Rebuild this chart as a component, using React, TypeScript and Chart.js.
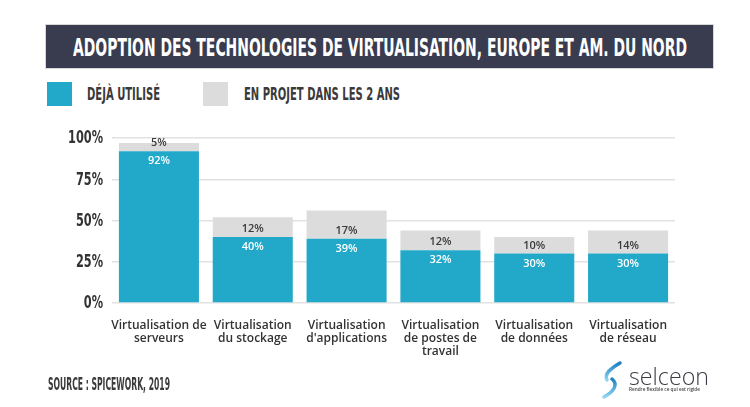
import React, { useEffect, useLayoutEffect, useRef } from "react";
import { Chart, registerables } from "chart.js";
Chart.register(...registerables);

const title = "ADOPTION DES TECHNOLOGIES DE VIRTUALISATION, EUROPE ET AM. DU NORD";
const seriesNames = ["DÉJÀ UTILISÉ", "EN PROJET DANS LES 2 ANS"];
const categories = [
  ["Virtualisation de", "serveurs"],
  ["Virtualisation", "du stockage"],
  ["Virtualisation", "d'applications"],
  ["Virtualisation", "de postes de", "travail"],
  ["Virtualisation", "de données"],
  ["Virtualisation", "de réseau"],
];
const usedValues = [92, 40, 39, 32, 30, 30];
const plannedValues = [5, 12, 17, 12, 10, 14];
const yTicks = [0, 25, 50, 75, 100];
const sourceText = "SOURCE : SPICEWORK, 2019";
const brandName = "selceon";
const brandTagline = "Rendre flexible ce qui est rigide";

const BLUE = "#22a8c9";
const GREY = "#dcdcdc";
const COND = "'Liberation Sans Narrow','DejaVu Sans Condensed','Arial Narrow',sans-serif";

function FitText(props: { text: string; width: number; style: React.CSSProperties }) {
  const ref = useRef<HTMLSpanElement>(null);
  useLayoutEffect(() => {
    const el = ref.current;
    if (!el) return;
    el.style.transform = "none";
    const w = el.getBoundingClientRect().width;
    if (w > 0) el.style.transform = `scaleX(${props.width / w})`;
  }, [props.text, props.width]);
  return (
    <span
      ref={ref}
      style={{
        ...props.style,
        position: "absolute",
        whiteSpace: "nowrap",
        transformOrigin: "left center",
        lineHeight: 1,
      }}
    >
      {props.text}
    </span>
  );
}

const labelPlugin = {
  id: "barLabels",
  afterDatasetsDraw(chart: any) {
    const ctx = chart.ctx;
    const m0 = chart.getDatasetMeta(0);
    ctx.save();
    ctx.textAlign = "center";
    ctx.textBaseline = "middle";
    ctx.font = "600 11px 'Open Sans', sans-serif";
    m0.data.forEach((bar: any, i: number) => {
      ctx.fillStyle = "#ffffff";
      ctx.fillText(usedValues[i] + "%", bar.x, bar.y + 10);
      ctx.fillStyle = "#3a3a3a";
      ctx.fillText(plannedValues[i] + "%", bar.x, bar.y - 8);
    });
    ctx.restore();
  },
};

// narrow y-axis tick labels (condensed display face)
const yLabelPlugin = {
  id: "yLabels",
  afterDraw(chart: any) {
    const ctx = chart.ctx;
    const ys = chart.scales.y;
    const right = ys.right - 9;
    const sx = 0.74;
    ctx.save();
    ctx.font = "bold 17px " + COND;
    ctx.fillStyle = "#333333";
    ctx.textAlign = "right";
    ctx.textBaseline = "middle";
    yTicks.forEach((v) => {
      const y = ys.getPixelForValue(v);
      ctx.save();
      ctx.translate(right, y + 1);
      ctx.scale(sx, 1);
      ctx.fillText(v + "%", 0, 0);
      ctx.restore();
    });
    ctx.restore();
  },
};

export default function App() {
  const canvasRef = useRef<HTMLCanvasElement>(null);
  useEffect(() => {
    const c = canvasRef.current;
    if (!c) return;
    const chart = new Chart(c, {
      type: "bar",
      data: {
        labels: categories as any,
        datasets: [
          { label: seriesNames[0], data: usedValues, backgroundColor: BLUE, borderWidth: 0 },
          { label: seriesNames[1], data: plannedValues, backgroundColor: GREY, borderWidth: 0 },
        ],
      },
      options: {
        animation: false,
        responsive: false,
        maintainAspectRatio: false,
        events: [],
        layout: { padding: { left: 52, right: 75, top: 138, bottom: 40 } },
        datasets: { bar: { categoryPercentage: 1, barPercentage: 0.853 } },
        plugins: { legend: { display: false }, tooltip: { enabled: false } },
        scales: {
          x: {
            stacked: true,
            grid: { display: false },
            border: { display: false },
            ticks: {
              color: "#333333",
              padding: 8,
              font: { family: "'Open Sans', sans-serif", size: 12, weight: "600" as any, lineHeight: 1.1 },
              maxRotation: 0,
              autoSkip: false,
            },
            afterFit: (s: any) => { s.height = 64; },
          },
          y: {
            stacked: true,
            min: 0,
            max: 100,
            afterBuildTicks: (s: any) => { s.ticks = yTicks.map((v) => ({ value: v })); },
            grid: { color: "#e2e2e2", lineWidth: 1.5, drawTicks: false },
            border: { display: false },
            ticks: { display: false },
            afterFit: (s: any) => { s.width = 60; },
          },
        },
      },
      plugins: [labelPlugin, yLabelPlugin],
    });
    return () => chart.destroy();
  }, []);

  return (
    <div style={{ position: "fixed", left: 0, top: 0, width: 750, height: 407, background: "#fff", overflow: "hidden" }}>
      <div style={{ position: "absolute", left: 46, top: 25, width: 667, height: 43, background: "#393c4f", boxShadow: "0 0 0 1px #d8d8d8" }} />
      <FitText text={title} width={614} style={{ left: 73, top: 35, color: "#ffffff", fontFamily: COND, fontWeight: "bold", fontSize: 25 }} />

      <div style={{ position: "absolute", left: 47, top: 82, width: 25, height: 24, background: BLUE }} />
      <FitText text={seriesNames[0]} width={73} style={{ left: 87, top: 86, color: "#3a3a3a", fontFamily: COND, fontWeight: "bold", fontSize: 17 }} />
      <div style={{ position: "absolute", left: 203, top: 82, width: 25, height: 24, background: GREY }} />
      <FitText text={seriesNames[1]} width={156} style={{ left: 244, top: 86, color: "#3a3a3a", fontFamily: COND, fontWeight: "bold", fontSize: 17 }} />

      <canvas ref={canvasRef} width={750} height={407} style={{ position: "absolute", left: 0, top: 0, width: 750, height: 407 }} />

      <FitText text={sourceText} width={122} style={{ left: 48, top: 375, color: "#3a3a3a", fontFamily: COND, fontWeight: "bold", fontSize: 18 }} />

      <svg style={{ position: "absolute", left: 600, top: 360 }} width={26} height={40} viewBox="0 0 26 40">
        <defs>
          <linearGradient id="sg" x1="0" y1="0" x2="0" y2="1">
            <stop offset="0" stopColor="#1e7fc2" />
            <stop offset="1" stopColor="#8fd6f2" />
          </linearGradient>
        </defs>
        <path d="M20 3 C10 9 4 14 7 20" fill="none" stroke="url(#sg)" strokeWidth={3.5} strokeLinecap="round" />
        <path d="M12 19 C18 24 15 31 4 37" fill="none" stroke="url(#sg)" strokeWidth={3.5} strokeLinecap="round" />
      </svg>
      <FitText text={brandName} width={80} style={{ left: 629, top: 364, color: "#3c3c46", fontFamily: "'Open Sans', sans-serif", fontWeight: 300, fontSize: 24 }} />
      <FitText text={brandTagline} width={71} style={{ left: 629, top: 386, color: "#444", fontFamily: "'Open Sans', sans-serif", fontWeight: 600, fontSize: 6 }} />
    </div>
  );
}
